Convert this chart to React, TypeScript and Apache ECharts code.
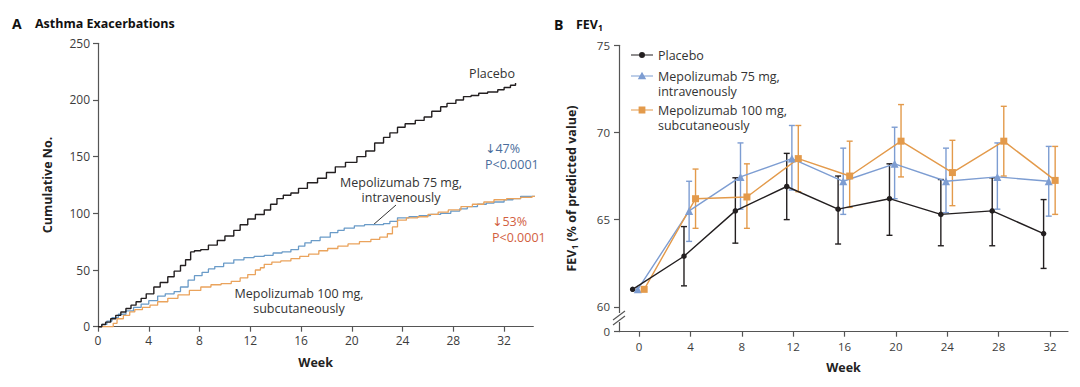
import React, { useEffect, useRef } from "react";
import * as echarts from "echarts";

// ---------- Panel A: cumulative asthma exacerbations (week, cumulative count) ----------
const kmPlacebo: [number, number][] = [
  [0, 0], [0.3, 2], [0.6, 4], [1.0, 7], [1.4, 10], [1.8, 13], [2.2, 16], [2.6, 19], [3.0, 22],
  [3.4, 25], [3.8, 29], [4.4, 35], [4.9, 39], [5.5, 44], [6.0, 49], [6.5, 54], [6.9, 59], [7.3, 66],
  [7.6, 67], [8.1, 68], [8.7, 72], [9.4, 76], [10.0, 80], [10.7, 85], [11.2, 90], [11.8, 95],
  [12.4, 99], [13.1, 103], [13.6, 108], [14.1, 113], [14.6, 116], [15.2, 118], [15.8, 122],
  [16.5, 127], [17.3, 131], [18.0, 136], [18.7, 141], [19.5, 145], [20.4, 150], [21.1, 155],
  [21.8, 162], [22.5, 167], [23.0, 171], [23.6, 176], [24.2, 179], [25.0, 182], [25.7, 185],
  [26.3, 190], [27.0, 194], [27.5, 197], [28.2, 200], [28.8, 203], [29.4, 204], [30.0, 206],
  [30.7, 207], [31.5, 209], [32.0, 211], [32.5, 213], [32.9, 215],
];
const kmIV: [number, number][] = [
  [0, 0], [0.3, 2], [0.7, 5], [1.1, 8], [1.6, 11], [2.2, 14], [2.8, 17], [3.4, 20], [4.0, 23],
  [4.7, 27], [5.3, 29], [6.0, 31], [6.5, 35], [7.1, 41], [7.6, 45], [8.2, 48], [8.7, 51], [9.2, 53],
  [9.9, 56], [10.7, 59], [11.5, 61], [12.3, 62], [13.1, 63], [13.8, 65], [14.5, 66], [15.2, 68],
  [15.8, 71], [16.3, 74], [16.8, 76], [17.5, 79], [18.3, 83], [18.9, 85], [19.4, 87], [20.2, 89],
  [21.0, 90], [21.8, 90], [22.5, 91], [23.0, 93], [23.6, 96], [24.5, 97], [25.3, 98], [26.2, 99],
  [27.0, 100], [27.8, 102], [28.5, 104], [29.1, 106], [29.9, 108], [30.6, 109], [31.2, 110],
  [32.0, 112], [32.7, 113], [33.3, 115], [34.2, 115], [35.1, 115],
];
const kmSC: [number, number][] = [
  [0, 0], [1.0, 0], [1.2, 3], [1.5, 7], [2.0, 10], [2.5, 13], [2.9, 15], [3.5, 17], [4.1, 19],
  [4.7, 22], [5.5, 25], [6.3, 28], [7.2, 32], [8.1, 35], [8.9, 37], [9.7, 38], [10.5, 40],
  [11.2, 43], [11.8, 46], [12.4, 50], [12.8, 52], [13.1, 55], [13.7, 57], [14.4, 58], [15.2, 60],
  [15.9, 62], [16.6, 64], [17.4, 67], [18.1, 69], [18.9, 71], [19.7, 73], [20.6, 75], [21.5, 77],
  [22.2, 79], [22.8, 82], [23.2, 88], [23.6, 94], [24.3, 96], [25.2, 97], [26.0, 99], [26.8, 101],
  [27.6, 103], [28.6, 106], [29.5, 108], [30.4, 110], [31.2, 112], [32.2, 113], [33.3, 114],
  [34.2, 115], [35.1, 115],
];
const weekTicksA = [0, 4, 8, 12, 16, 20, 24, 28, 32];
const countTicks = [0, 50, 100, 150, 200, 250];

// ---------- Panel B: FEV1 (% of predicted value) ----------
const fevWeeks = [0, 4, 8, 12, 16, 20, 24, 28, 32];
const placeboMean = [61.0, 62.9, 65.5, 66.9, 65.6, 66.2, 65.3, 65.5, 64.2];
const placeboLow = [null, 61.2, 63.65, 65.0, 63.6, 64.1, 63.5, 63.5, 62.2];
const placeboHigh = [null, 64.6, 67.4, 68.8, 67.5, 68.2, 67.3, 67.4, 66.15];
const ivMean = [61.0, 65.5, 67.45, 68.5, 67.2, 68.2, 67.2, 67.45, 67.2];
const ivLow = [null, 63.75, 65.6, 66.7, 65.3, 66.2, 65.4, 65.6, 65.2];
const ivHigh = [null, 67.2, 69.4, 70.4, 69.1, 70.3, 69.1, 69.4, 69.2];
const scMean = [61.0, 66.2, 66.3, 68.5, 67.5, 69.5, 67.7, 69.5, 67.25];
const scLow = [null, 64.5, 64.5, 66.6, 65.7, 67.45, 65.8, 67.5, 65.3];
const scHigh = [null, 67.9, 68.2, 70.4, 69.5, 71.6, 69.55, 71.5, 69.2];
const weekTicksB = [0, 4, 8, 12, 16, 20, 24, 28, 32];
const fevTicks = [60, 65, 70, 75];
const fevBrokenZeroLabel = "0";

const FONT = "'Open Sans', 'DejaVu Sans', sans-serif";
const BLACK = "#231f20";
const BLUE_A = "#6a9bc8";
const ORANGE_A = "#eaa35c";
const BLUE_B = "#7d9dd2";
const ORANGE_B = "#e39a4b";
const AXIS = "#555555";
const LABEL = "#3c3c3c";

const NAME_PLACEBO = "Placebo";
const NAME_IV = "Mepolizumab 75 mg,\nintravenously";
const NAME_SC = "Mepolizumab 100 mg,\nsubcutaneously";

// legend icons: a line with the series marker, drawn in the top 15px of the icon box
const BOX_TOP = "M0,0h0.05v0.05h-0.05Z";
const ICON_LINE = "M0,6.9h22v1.2h-22Z";
const ICON_PLACEBO = `path://${BOX_TOP}M0,14.95h0.05v0.05h-0.05Z${ICON_LINE}M8,7.5a3,3 0 1,1 6,0a3,3 0 1,1 -6,0Z`;
const ICON_IV = `path://${BOX_TOP}M0,29.95h0.05v0.05h-0.05Z${ICON_LINE}M11,3.3L15.2,10.7L6.8,10.7Z`;
const ICON_SC = `path://${BOX_TOP}M0,29.95h0.05v0.05h-0.05Z${ICON_LINE}M7.6,4.1h6.8v6.8h-6.8Z`;

function makeErrorRender(color: string) {
  return (_params: any, api: any) => {
    const x = api.value(0);
    const lo = api.coord([x, api.value(1)]);
    const hi = api.coord([x, api.value(2)]);
    const cap = 3;
    const style = { stroke: color, lineWidth: 1.4 };
    return {
      type: "group",
      children: [
        { type: "line", shape: { x1: lo[0], y1: lo[1], x2: hi[0], y2: hi[1] }, style },
        { type: "line", shape: { x1: hi[0] - cap, y1: hi[1], x2: hi[0] + cap, y2: hi[1] }, style },
        { type: "line", shape: { x1: lo[0] - cap, y1: lo[1], x2: lo[0] + cap, y2: lo[1] }, style },
      ],
    };
  };
}

export default function App() {
  const ref = useRef<HTMLDivElement>(null);

  useEffect(() => {
    document.body.style.margin = "0";
    if (!ref.current) return;
    const chart = echarts.init(ref.current, null, { renderer: "svg" });

    const offPlacebo = -0.5;
    const offIV = -0.1;
    const offSC = 0.4;
    const fevAxisMin = 58.57;

    const meanData = (mean: number[], off: number) =>
      fevWeeks.map((w, i) => [w + off, mean[i]]);
    const errData = (lo: (number | null)[], hi: (number | null)[], off: number) =>
      fevWeeks
        .map((w, i) => [w + off, lo[i], hi[i]])
        .filter((d) => d[1] != null && d[2] != null);

    const axisLineStyle = { color: AXIS, width: 1.2 };
    const tickLabel = { color: LABEL, fontSize: 12, fontFamily: FONT };
    const axisName = { color: "#222", fontSize: 12.5, fontWeight: "bold" as const, fontFamily: FONT };

    const note = (x: number, y: number, text: string, lh: number, color = "#333", align = "center") => ({
      type: "text",
      x,
      y,
      style: { text, fill: color, font: `12.5px ${FONT}`, align, verticalAlign: "middle", lineHeight: lh },
    });

    const legendBase = {
      left: 631, orient: "vertical", padding: 0, itemWidth: 22,
      itemStyle: { borderWidth: 0 },
      textStyle: { fontSize: 12.5, color: "#333", fontFamily: FONT, lineHeight: 15 },
    };

    const option: any = {
      animation: false,
      textStyle: { fontFamily: FONT },
      grid: [
        { left: 98, top: 43.3, width: 435.3, height: 283.4 },
        { left: 619, top: 45.3, width: 449, height: 286.4 },
      ],
      xAxis: [
        {
          gridIndex: 0, type: "value", min: 0, max: 34.3,
          name: "Week", nameLocation: "middle", nameGap: 29, nameTextStyle: axisName,
          axisLine: { show: true, onZero: false, lineStyle: axisLineStyle },
          axisTick: { show: true, length: 5, customValues: weekTicksA, lineStyle: axisLineStyle },
          axisLabel: { ...tickLabel, customValues: weekTicksA, margin: 8 },
          splitLine: { show: false },
        },
        {
          gridIndex: 1, type: "value", min: -1.56, max: 33.4,
          name: "Week", nameLocation: "middle", nameGap: 29, nameTextStyle: axisName,
          axisLine: { show: true, onZero: false, lineStyle: axisLineStyle },
          axisTick: { show: true, length: 5, customValues: weekTicksB, lineStyle: axisLineStyle },
          axisLabel: { ...tickLabel, fontSize: 11.5, customValues: weekTicksB, margin: 9 },
          splitLine: { show: false },
        },
      ],
      yAxis: [
        {
          gridIndex: 0, type: "value", min: 0, max: 250,
          name: "Cumulative No.", nameLocation: "middle", nameGap: 44, nameTextStyle: axisName,
          axisLine: { show: true, lineStyle: axisLineStyle },
          axisTick: { show: true, length: 5, customValues: countTicks, lineStyle: axisLineStyle },
          axisLabel: { ...tickLabel, customValues: countTicks, margin: 8 },
          splitLine: { show: false },
        },
        {
          gridIndex: 1, type: "value", min: fevAxisMin, max: 75,
          name: "{n|FEV}{s|1}{n| (% of predicted value)}", nameLocation: "middle", nameGap: 40,
          nameTextStyle: {
            ...axisName,
            rich: {
              n: { fontSize: 12.5, fontWeight: "bold", fontFamily: FONT, color: "#222" },
              s: { fontSize: 8.5, fontWeight: "bold", fontFamily: FONT, color: "#222", padding: [7, 0, 0, 0] },
            },
          },
          axisLine: { show: true, onZero: false, lineStyle: axisLineStyle },
          axisTick: { show: true, length: 5, customValues: [fevAxisMin, ...fevTicks], lineStyle: axisLineStyle },
          axisLabel: {
            ...tickLabel, fontSize: 11.5, margin: 9,
            customValues: [fevAxisMin, ...fevTicks],
            formatter: (v: number) => (v < fevTicks[0] ? fevBrokenZeroLabel : String(v)),
          },
          splitLine: { show: false },
        },
      ],
      legend: [
        { ...legendBase, top: 47.5, itemHeight: 15, data: [{ name: NAME_PLACEBO, icon: ICON_PLACEBO }] },
        { ...legendBase, top: 68.5, itemHeight: 30, data: [{ name: NAME_IV, icon: ICON_IV }] },
        { ...legendBase, top: 102.5, itemHeight: 30, data: [{ name: NAME_SC, icon: ICON_SC }] },
      ],
      series: [
        // Panel A
        {
          type: "line", name: "A-IV", xAxisIndex: 0, yAxisIndex: 0, data: kmIV, step: "end",
          showSymbol: false, clip: false, lineStyle: { color: BLUE_A, width: 1.3 }, z: 2,
        },
        {
          type: "line", name: "A-SC", xAxisIndex: 0, yAxisIndex: 0, data: kmSC, step: "end",
          showSymbol: false, clip: false, lineStyle: { color: ORANGE_A, width: 1.3 }, z: 3,
        },
        {
          type: "line", name: "A-Placebo", xAxisIndex: 0, yAxisIndex: 0, data: kmPlacebo, step: "end",
          showSymbol: false, clip: false, lineStyle: { color: BLACK, width: 1.4 }, z: 4,
        },
        // Panel B means
        {
          type: "line", name: NAME_PLACEBO, xAxisIndex: 1, yAxisIndex: 1,
          data: meanData(placeboMean, offPlacebo), symbol: "circle", symbolSize: 5.5,
          itemStyle: { color: BLACK }, lineStyle: { color: BLACK, width: 1.4 }, z: 5,
        },
        {
          type: "line", name: NAME_IV, xAxisIndex: 1, yAxisIndex: 1,
          data: meanData(ivMean, offIV), symbol: "triangle", symbolSize: 8,
          itemStyle: { color: BLUE_B }, lineStyle: { color: BLUE_B, width: 1.4 }, z: 4,
        },
        {
          type: "line", name: NAME_SC, xAxisIndex: 1, yAxisIndex: 1,
          data: meanData(scMean, offSC), symbol: "rect", symbolSize: 7,
          itemStyle: { color: ORANGE_B }, lineStyle: { color: ORANGE_B, width: 1.4 }, z: 4,
        },
        // Panel B error bars
        {
          type: "custom", name: "SE placebo", xAxisIndex: 1, yAxisIndex: 1,
          data: errData(placeboLow, placeboHigh, offPlacebo), renderItem: makeErrorRender(BLACK),
          encode: { x: 0, y: [1, 2] }, itemStyle: { color: BLACK }, z: 3,
        },
        {
          type: "custom", name: "SE iv", xAxisIndex: 1, yAxisIndex: 1,
          data: errData(ivLow, ivHigh, offIV), renderItem: makeErrorRender(BLUE_B),
          encode: { x: 0, y: [1, 2] }, itemStyle: { color: BLUE_B }, z: 3,
        },
        {
          type: "custom", name: "SE sc", xAxisIndex: 1, yAxisIndex: 1,
          data: errData(scLow, scHigh, offSC), renderItem: makeErrorRender(ORANGE_B),
          encode: { x: 0, y: [1, 2] }, itemStyle: { color: ORANGE_B }, z: 3,
        },
      ],
      graphic: [
        // Titles
        { type: "text", x: 12, y: 23, style: { text: "A", fill: "#111", font: `bold 14px ${FONT}`, verticalAlign: "middle" } },
        { type: "text", x: 35, y: 23, style: { text: "Asthma Exacerbations", fill: "#111", font: `bold 12.5px ${FONT}`, verticalAlign: "middle" } },
        { type: "text", x: 554, y: 24, style: { text: "B", fill: "#111", font: `bold 14px ${FONT}`, verticalAlign: "middle" } },
        {
          type: "text", x: 576, y: 24,
          style: {
            text: "{n|FEV}{s|1}", verticalAlign: "middle",
            rich: {
              n: { fill: "#111", font: `bold 12.5px ${FONT}` },
              s: { fill: "#111", font: `bold 8.5px ${FONT}`, padding: [7, 0, 0, 0] },
            },
          },
        },
        // Panel A annotations
        note(492, 73, "Placebo", 15),
        note(401, 190, "Mepolizumab 75 mg,\nintravenously", 15),
        { type: "line", shape: { x1: 396, y1: 205, x2: 373, y2: 225 }, style: { stroke: "#333", lineWidth: 1 } },
        note(299, 300.8, "Mepolizumab 100 mg,\nsubcutaneously", 15),
        note(485, 156.5, "\u219347%\nP<0.0001", 15.5, "#4a6d9c", "left"),
        note(492, 229.5, "\u219353%\nP<0.0001", 15.5, "#d2603f", "left"),
        // Panel B axis break
        { type: "rect", shape: { x: 614, y: 313, width: 10, height: 9 }, style: { fill: "#fff" }, z: 100 },
        { type: "line", shape: { x1: 613, y1: 320, x2: 625, y2: 311 }, style: { stroke: AXIS, lineWidth: 1.1 }, z: 101 },
        { type: "line", shape: { x1: 613, y1: 325, x2: 625, y2: 316 }, style: { stroke: AXIS, lineWidth: 1.1 }, z: 101 },
      ],
    };

    chart.setOption(option);
    return () => chart.dispose();
  }, []);

  return <div ref={ref} style={{ width: 1080, height: 387 }} />;
}
